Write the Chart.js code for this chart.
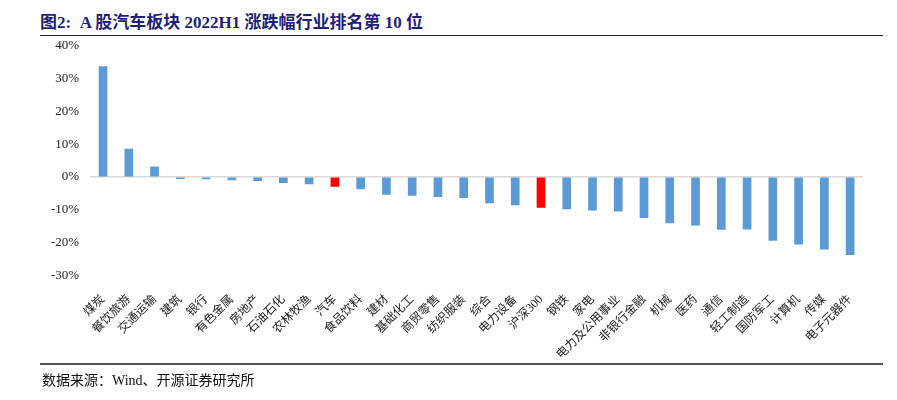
<!DOCTYPE html>
<html>
<head>
<meta charset="utf-8">
<script src="https://cdn.jsdelivr.net/npm/chart.js@4"></script>
<style>
  body { margin: 0; background: #fff; width: 897px; height: 400px; position: relative; overflow: hidden; }
  #title {
    position: absolute; left: 40px; top: 8px;
    font-family: "Liberation Serif", "Noto Sans CJK SC", serif;
    font-weight: bold; font-size: 17px; color: #1f1f7a; white-space: nowrap;
  }
  #top-line { position: absolute; left: 40px; top: 35px; width: 843px; height: 1px; background: #222; }
  #bottom-line { position: absolute; left: 40px; top: 363px; width: 843px; height: 2px; background: #555; }
  #source {
    position: absolute; left: 42px; top: 369px;
    font-family: "Liberation Serif", "Noto Sans CJK SC", serif;
    font-size: 14px; color: #111; white-space: nowrap;
  }
  #wrap { position: absolute; left: 40px; top: 27px; width: 845px; height: 344px; }
</style>
</head>
<body>
<div id="title">图2:&nbsp; A 股汽车板块 2022H1 涨跌幅行业排名第 10 位</div>
<div id="top-line"></div>
<div id="wrap"><canvas id="rankChart"></canvas></div>
<div id="bottom-line"></div>
<div id="source">数据来源：Wind、开源证券研究所</div>

<script>
// --------- Data ---------
const industries = [
  "煤炭", "餐饮旅游", "交通运输", "建筑", "银行", "有色金属", "房地产", "石油石化",
  "农林牧渔", "汽车", "食品饮料", "建材", "基础化工", "商贸零售", "纺织服装", "综合",
  "电力设备", "沪深300", "钢铁", "家电", "电力及公用事业", "非银行金融", "机械", "医药",
  "通信", "轻工制造", "国防军工", "计算机", "传媒", "电子元器件"
];
const changePct = [
  33.7, 8.5, 3.1, -0.5, -0.6, -0.9, -1.1, -1.7,
  -2.1, -2.9, -3.6, -5.3, -5.6, -6.0, -6.3, -7.9,
  -8.5, -9.3, -9.7, -10.1, -10.4, -12.4, -14.0, -14.7,
  -16.0, -15.9, -19.3, -20.5, -22.0, -23.7
];
const highlighted = ["汽车", "沪深300"];
const yTicks = [40, 30, 20, 10, 0, -10, -20, -30];

const barColors = industries.map(name => highlighted.includes(name) ? "#ff0000" : "#5b9bd5");
const serif = "'Liberation Serif', 'Noto Sans CJK SC', serif";

// --------- Render Chart ---------
const ctx = document.getElementById("rankChart").getContext("2d");

new Chart(ctx, {
  type: "bar",
  data: {
    labels: industries,
    datasets: [{
      data: changePct,
      backgroundColor: barColors,
      barThickness: 8
    }]
  },
  options: {
    responsive: true,
    maintainAspectRatio: false,
    animation: false,
    layout: { padding: { left: 0, right: 22, top: 0, bottom: 0 } },
    plugins: {
      legend: { display: false },
      tooltip: { enabled: false }
    },
    scales: {
      x: {
        grid: { display: false },
        border: { display: false },
        ticks: {
          color: "#222",
          font: { family: serif, size: 12 },
          minRotation: 45,
          maxRotation: 45,
          autoSkip: false,
          padding: 9
        }
      },
      y: {
        min: -30,
        max: 40,
        afterBuildTicks: axis => { axis.ticks = yTicks.map(v => ({ value: v })); },
        border: { display: false },
        grid: {
          drawTicks: false,
          lineWidth: 1.5,
          color: c => c.tick && c.tick.value === 0 ? "#d9d9d9" : "rgba(0,0,0,0)"
        },
        ticks: {
          color: "#222",
          font: { family: serif, size: 13 },
          padding: 11,
          callback: v => v + "%"
        }
      }
    }
  }
});
</script>
</body>
</html>
